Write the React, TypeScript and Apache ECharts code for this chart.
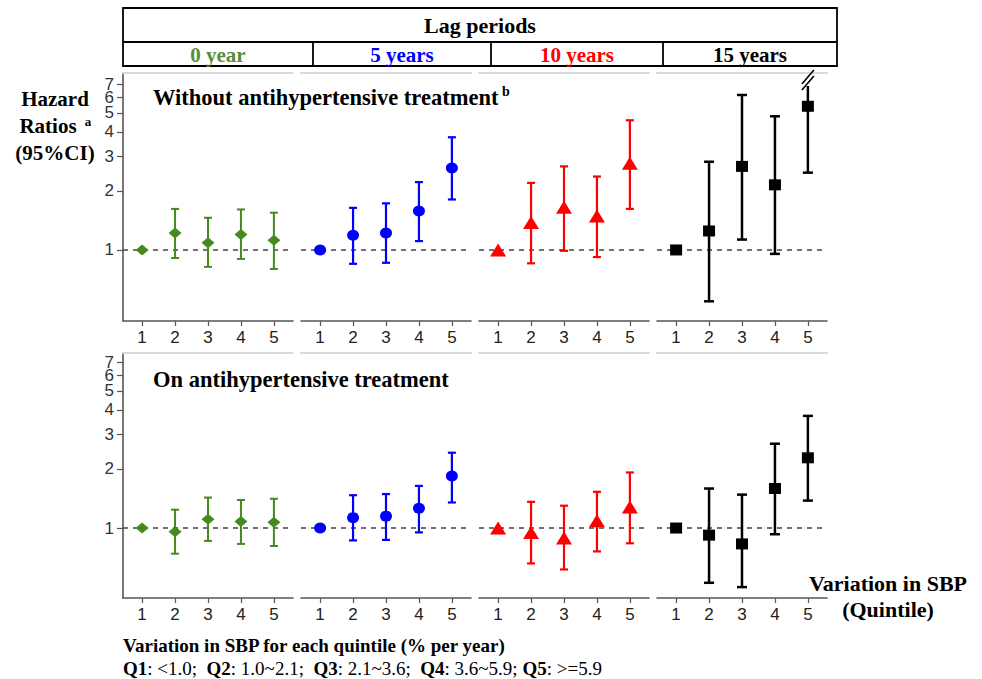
import React, { useEffect, useRef } from "react";
import * as echarts from "echarts";

// ---------- data ----------
const quintiles = [1, 2, 3, 4, 5];
const yTickValues = [1, 2, 3, 4, 5, 7];
const yTickValuesCrowded = [6]; // drawn on a twin axis so the crowded label is not dropped
const lagLabels = ["0 year", "5 years", "10 years", "15 years"];
const rowTitles = ["Without antihypertensive treatment", "On antihypertensive treatment"];

// Hazard ratios by lag (rows: 0, 5, 10, 15 years; columns: Q1..Q5)
const withoutHR = [
  [1, 1.22, 1.09, 1.2, 1.12],
  [1, 1.19, 1.22, 1.58, 2.62],
  [1, 1.38, 1.65, 1.49, 2.77],
  [1, 1.25, 2.67, 2.15, 5.41],
];
const withoutLow = [
  [null, 0.91, 0.82, 0.9, 0.8],
  [null, 0.85, 0.86, 1.11, 1.81],
  [null, 0.855, 0.99, 0.92, 1.62],
  [null, 0.547, 1.13, 0.955, 2.48],
];
const withoutHigh = [
  [null, 1.62, 1.46, 1.61, 1.55],
  [null, 1.64, 1.73, 2.22, 3.76],
  [null, 2.2, 2.67, 2.37, 4.59],
  [null, 2.82, 6.18, 4.81, 12.0],
];
const onHR = [
  [1, 0.957, 1.11, 1.08, 1.07],
  [1, 1.13, 1.15, 1.26, 1.84],
  [1, 0.95, 0.89, 1.09, 1.28],
  [1, 0.92, 0.83, 1.59, 2.28],
];
const onLow = [
  [null, 0.74, 0.86, 0.83, 0.81],
  [null, 0.865, 0.87, 0.95, 1.35],
  [null, 0.66, 0.615, 0.76, 0.836],
  [null, 0.526, 0.5, 0.93, 1.38],
];
const onHigh = [
  [null, 1.24, 1.43, 1.39, 1.41],
  [null, 1.47, 1.49, 1.64, 2.42],
  [null, 1.36, 1.3, 1.53, 1.92],
  [null, 1.59, 1.48, 2.69, 3.73],
];

// ---------- styles / layout ----------
const lagColors = ["#448a1c", "#0000ff", "#ff0000", "#000000"];
const headerColors = ["#5a8c3a", "#0000ff", "#ff0000", "#000000"];
const markerSymbols = ["diamond", "circle", "triangle", "rect"];
const markerSizes: number[][] = [[13, 11], [12, 11], [16, 13], [12, 11]];
const capWidths = [8, 8, 8, 10];
const barWidths = [2, 2.2, 2.2, 2.5];

const panelLefts = [123, 301, 479, 657];
const panelWidth = 170;
const rowTops = [73, 353];
const rowHeights = [248, 245];
const rowYMin = [0.434, 0.44];
const rowYMax = [8.0, 7.8];
const xMin = 0.42;
const xMax = 5.58;

const SERIF = "'Liberation Serif', 'Times New Roman', serif";
const SANS = "'Liberation Sans', Arial, sans-serif";

const log = (v: number) => Math.log10(v);

function yAxisLabelStyle(ticks: number[]) {
  return {
    show: true,
    customValues: ticks,
    formatter: (v: number) => String(Math.round(Math.pow(10, v))),
    fontSize: 17,
    lineHeight: 12,
    color: "#333",
    fontFamily: SANS,
    margin: 9,
    showMinLabel: true,
    showMaxLabel: true,
    hideOverlap: false,
  };
}

function buildOption() {
  const grid: any[] = [];
  const xAxis: any[] = [];
  const yAxis: any[] = [];
  const extraYAxis: any[] = [];
  const series: any[] = [];
  const rows = [
    { hr: withoutHR, lo: withoutLow, hi: withoutHigh },
    { hr: onHR, lo: onLow, hi: onHigh },
  ];
  let gi = 0;
  rows.forEach((row, r) => {
    for (let lag = 0; lag < 4; lag++) {
      grid.push({
        left: panelLefts[lag],
        top: rowTops[r],
        width: panelWidth,
        height: rowHeights[r],
        containLabel: false,
      });
      // bottom axis
      xAxis.push({
        type: "value",
        gridIndex: gi,
        min: xMin,
        max: xMax,
        position: "bottom",
        splitLine: { show: false },
        axisLine: { show: true, onZero: false, lineStyle: { color: "#555", width: 1.6 } },
        axisTick: { show: true, customValues: quintiles, length: 5, lineStyle: { color: "#555", width: 1.2 } },
        axisLabel: {
          show: true,
          customValues: quintiles,
          fontSize: 17,
          color: "#222",
          fontFamily: SANS,
          margin: 8,
          showMinLabel: true,
          showMaxLabel: true,
        },
      });
      // top grey border
      xAxis.push({
        type: "value",
        gridIndex: gi,
        min: xMin,
        max: xMax,
        position: "top",
        splitLine: { show: false },
        axisLine: { show: true, onZero: false, lineStyle: { color: "#d9d9d9", width: 2 } },
        axisTick: { show: false },
        axisLabel: { show: false },
      });
      const ticks = yTickValues.map(log);
      yAxis.push({
        type: "value",
        gridIndex: gi,
        min: log(rowYMin[r]),
        max: log(rowYMax[r]),
        show: lag === 0,
        splitLine: { show: false },
        axisLine: { show: true, onZero: false, lineStyle: { color: "#555", width: 1.6 } },
        axisTick: { show: true, customValues: ticks, length: 6, lineStyle: { color: "#555", width: 1.2 } },
        axisLabel: yAxisLabelStyle(ticks),
      });
      if (lag === 0) {
        const ticks2 = yTickValuesCrowded.map(log);
        extraYAxis.push({
          type: "value",
          gridIndex: gi,
          position: "left",
          offset: 0,
          min: log(rowYMin[r]),
          max: log(rowYMax[r]),
          splitLine: { show: false },
          axisLine: { show: false, onZero: false },
          axisTick: { show: true, customValues: ticks2, length: 6, lineStyle: { color: "#555", width: 1.2 } },
          axisLabel: yAxisLabelStyle(ticks2),
        });
      }
      const color = lagColors[lag];
      const capW = capWidths[lag];
      const lw = barWidths[lag];
      const barData: any[] = [];
      quintiles.forEach((q, i) => {
        const lo = row.lo[lag][i];
        const hi = row.hi[lag][i];
        if (lo != null && hi != null) barData.push([q, log(lo), log(hi)]);
      });
      series.push({
        type: "custom",
        xAxisIndex: gi * 2,
        yAxisIndex: gi,
        clip: false,
        silent: true,
        z: 3,
        data: barData,
        renderItem: (params: any, api: any) => {
          const x = api.value(0);
          const pLo = api.coord([x, api.value(1)]);
          let pHi = api.coord([x, api.value(2)]);
          const top = params.coordSys.y;
          let broken = false;
          if (pHi[1] < top + 13) {
            pHi = [pHi[0], top + 13];
            broken = true;
          }
          const st = { stroke: color, lineWidth: lw };
          const children: any[] = [
            { type: "line", shape: { x1: pLo[0], y1: pLo[1], x2: pHi[0], y2: pHi[1] }, style: st },
            { type: "line", shape: { x1: pLo[0] - capW / 2, y1: pLo[1], x2: pLo[0] + capW / 2, y2: pLo[1] }, style: st },
          ];
          if (!broken) {
            children.push({ type: "line", shape: { x1: pHi[0] - capW / 2, y1: pHi[1], x2: pHi[0] + capW / 2, y2: pHi[1] }, style: st });
          } else {
            const cx = pHi[0];
            [top + 10, top + 4].forEach((cy) => {
              children.push({
                type: "line",
                shape: { x1: cx - 6, y1: cy + 7, x2: cx + 6, y2: cy - 7 },
                style: { stroke: color, lineWidth: 1.6 },
              });
            });
          }
          return { type: "group", children };
        },
      });
      series.push({
        type: "scatter",
        xAxisIndex: gi * 2,
        yAxisIndex: gi,
        symbol: markerSymbols[lag],
        symbolSize: markerSizes[lag],
        itemStyle: { color, opacity: 1 },
        silent: true,
        z: 4,
        data: quintiles.map((q, i) => [q, log(row.hr[lag][i])]),
        markLine: {
          silent: true,
          symbol: "none",
          label: { show: false },
          lineStyle: { color: "#444", type: [5, 5], width: 1.5 },
          data: [{ yAxis: 0 }],
          z: 2,
        },
      });
      gi++;
    }
  });

  const headerLeft = 123;
  const headerRight = 837;
  const dividers = [313, 491, 663];
  const colCenters = [218, 402, 577, 750];
  const graphic: any[] = [
    {
      type: "rect",
      shape: { x: headerLeft, y: 8, width: headerRight - headerLeft, height: 58 },
      style: { fill: "none", stroke: "#000", lineWidth: 1.8 },
    },
    {
      type: "line",
      shape: { x1: headerLeft, y1: 42, x2: headerRight, y2: 42 },
      style: { stroke: "#000", lineWidth: 1.8 },
    },
    ...dividers.map((x) => ({
      type: "line",
      shape: { x1: x, y1: 42, x2: x, y2: 66 },
      style: { stroke: "#000", lineWidth: 1.8 },
    })),
    {
      type: "text",
      x: 480,
      y: 25,
      style: { text: "Lag periods", font: `bold 22px ${SERIF}`, fill: "#000", align: "center", verticalAlign: "middle" },
    },
    ...lagLabels.map((t, i) => ({
      type: "text",
      x: colCenters[i],
      y: 55,
      style: { text: t, font: `bold 21px ${SERIF}`, fill: headerColors[i], align: "center", verticalAlign: "middle" },
    })),
    // y axis title
    {
      type: "text",
      x: 55,
      y: 99,
      style: { text: "Hazard", font: `bold 21px ${SERIF}`, fill: "#000", align: "center", verticalAlign: "middle" },
    },
    {
      type: "text",
      x: 48,
      y: 126,
      style: { text: "Ratios", font: `bold 21px ${SERIF}`, fill: "#000", align: "center", verticalAlign: "middle" },
    },
    {
      type: "text",
      x: 88,
      y: 121,
      style: { text: "a", font: `bold 13px ${SERIF}`, fill: "#000", align: "center", verticalAlign: "middle" },
    },
    {
      type: "text",
      x: 55,
      y: 153,
      style: { text: "(95%CI)", font: `bold 21px ${SERIF}`, fill: "#000", align: "center", verticalAlign: "middle" },
    },
    // panel titles
    {
      type: "text",
      x: 153,
      y: 97,
      style: { text: rowTitles[0], font: `bold 22.5px ${SERIF}`, fill: "#000", align: "left", verticalAlign: "middle" },
    },
    {
      type: "text",
      x: 506,
      y: 91,
      style: { text: "b", font: `bold 14px ${SERIF}`, fill: "#000", align: "center", verticalAlign: "middle" },
    },
    {
      type: "text",
      x: 153,
      y: 379,
      style: { text: rowTitles[1], font: `bold 22.5px ${SERIF}`, fill: "#000", align: "left", verticalAlign: "middle" },
    },
    // x axis title
    {
      type: "text",
      x: 888,
      y: 583,
      style: { text: "Variation in SBP", font: `bold 22px ${SERIF}`, fill: "#000", align: "center", verticalAlign: "middle" },
    },
    {
      type: "text",
      x: 888,
      y: 609,
      style: { text: "(Quintile)", font: `bold 22px ${SERIF}`, fill: "#000", align: "center", verticalAlign: "middle" },
    },
    // footnote
    {
      type: "text",
      x: 123,
      y: 645,
      style: {
        text: "Variation in SBP for each quintile (% per year)",
        font: `bold 19px ${SERIF}`,
        fill: "#000",
        align: "left",
        verticalAlign: "middle",
      },
    },
    {
      type: "text",
      x: 123,
      y: 668,
      style: {
        text:
          "{b|Q1}{n|: <1.0;  }{b|Q2}{n|: 1.0~2.1;  }{b|Q3}{n|: 2.1~3.6;  }{b|Q4}{n|: 3.6~5.9; }{b|Q5}{n|: >=5.9}",
        align: "left",
        verticalAlign: "middle",
        rich: {
          b: { font: `bold 19px ${SERIF}`, fill: "#000" },
          n: { font: `19px ${SERIF}`, fill: "#000" },
        },
      },
    },
  ];

  return {
    animation: false,
    backgroundColor: "#ffffff",
    grid,
    xAxis,
    yAxis: [...yAxis, ...extraYAxis],
    series,
    graphic,
  };
}

export default function App() {
  const ref = useRef<HTMLDivElement>(null);
  useEffect(() => {
    if (!ref.current) return;
    const chart = echarts.init(ref.current, undefined, { renderer: "svg" });
    chart.setOption(buildOption() as any);
    return () => chart.dispose();
  }, []);
  return (
    <div
      ref={ref}
      style={{ position: "fixed", left: 0, top: 0, width: 982, height: 679, background: "#fff" }}
    />
  );
}
